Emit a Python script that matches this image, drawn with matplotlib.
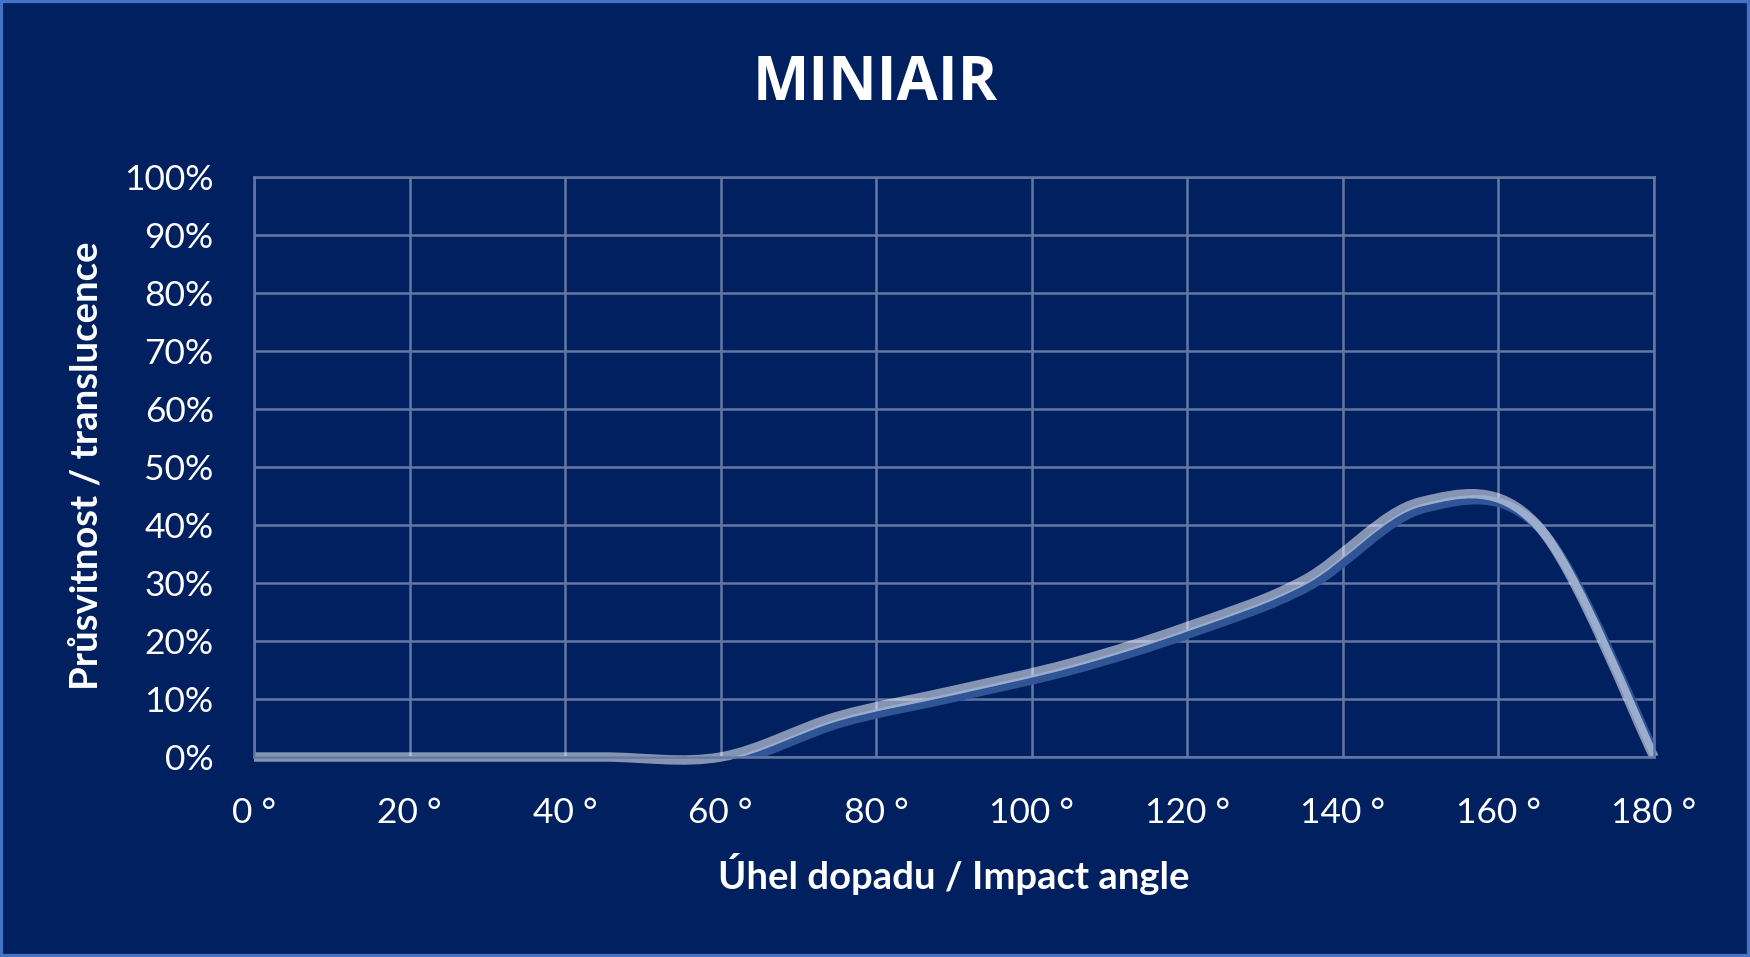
import numpy as np
import matplotlib.pyplot as plt
import matplotlib.transforms as mtransforms
from matplotlib.path import Path
from matplotlib.patches import PathPatch, Rectangle

plt.rcParams['font.family'] = ['Lato', 'DejaVu Sans']

# data
angles = [0, 15, 30, 45, 60, 75, 90, 105, 120, 135, 150, 165, 180]
translucence = [0, 0, 0, 0, 0, 7.0, 11.5, 16.2, 22.5, 30.5, 44.0, 40.0, 0]

x_ticks = [0, 20, 40, 60, 80, 100, 120, 140, 160, 180]
x_tick_labels = [f"{a} °" for a in x_ticks]
y_ticks = [0, 10, 20, 30, 40, 50, 60, 70, 80, 90, 100]
y_tick_labels = [f"{v}%" for v in y_ticks]

bg = "#002060"
grid_col = "#6577a3"


def smooth_path(x, y):
    # Excel-style smoothed line: cubic bezier through every point
    pts = np.column_stack([x, y]).astype(float)
    n = len(pts)
    verts = [pts[0]]
    codes = [Path.MOVETO]
    for i in range(n - 1):
        p0 = pts[max(i - 1, 0)]
        p1 = pts[i]
        p2 = pts[i + 1]
        p3 = pts[min(i + 2, n - 1)]
        verts += [p1 + (p2 - p0) / 6, p2 - (p3 - p1) / 6, p2]
        codes += [Path.CURVE4] * 3
    return Path(verts, codes)


fig = plt.figure(figsize=(17.5, 9.57), dpi=100, facecolor=bg)
ax = fig.add_axes([254 / 1750, 1 - 757 / 957, 1400 / 1750, 580 / 957])
ax.set_facecolor(bg)

path = smooth_path(angles, translucence)

# shadow (offset, clipped to plot area)
shadow_tr = ax.transData + mtransforms.ScaledTranslation(5 / 100, -6 / 100, fig.dpi_scale_trans)
ax.add_patch(PathPatch(path, fill=False, edgecolor="#2f5597", lw=6.8,
                       capstyle="butt", joinstyle="round", transform=shadow_tr))
# main line
ax.add_patch(PathPatch(path, fill=False, edgecolor=(1, 1, 1, 0.52), lw=6.8,
                       capstyle="butt", joinstyle="round", clip_on=False))

ax.set_xlim(0, 180)
ax.set_ylim(0, 100)
ax.set_xticks(x_ticks)
ax.set_xticklabels(x_tick_labels)
ax.set_yticks(y_ticks)
ax.set_yticklabels(y_tick_labels)
ax.tick_params(length=0, labelsize=25.5, labelcolor="white", pad=29)
ax.grid(True, color=grid_col, lw=1.8)
ax.set_axisbelow(True)
for s in ax.spines.values():
    s.set_color(grid_col)
    s.set_linewidth(1.8)

fig.text(875 / 1750, 1 - 100 / 957, "MINIAIR", ha="center", va="baseline",
         fontsize=43, fontweight="bold", color="white", family="Open Sans")
fig.text(87 / 1750, 1 - 466 / 957, "Průsvitnost / translucence", rotation=90,
         ha="center", va="center", fontsize=27.5, fontweight="bold", color="white")
fig.text(954 / 1750, 1 - 874 / 957, "Úhel dopadu / Impact angle",
         ha="center", va="center", fontsize=27.5, fontweight="bold", color="white")

# outer border
fig.patches.append(Rectangle((0, 0), 1, 1, transform=fig.transFigure, fill=False,
                             edgecolor="#4472c4", lw=4.5, clip_on=False))

plt.savefig("out.png", dpi=100, facecolor=bg)
